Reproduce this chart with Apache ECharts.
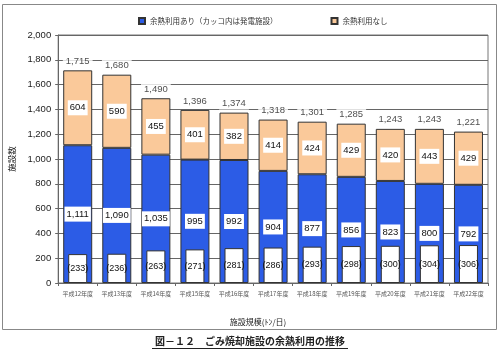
<!DOCTYPE html>
<html><head><meta charset="utf-8">
<script src="https://cdn.jsdelivr.net/npm/echarts@6/dist/echarts.min.js"></script>
<style>html,body{margin:0;padding:0;background:#fff}#c{width:500px;height:352px}</style>
</head><body><div id="c"></div>
<script>
const categories = ['平成12年度','平成13年度','平成14年度','平成15年度','平成16年度','平成17年度','平成18年度','平成19年度','平成20年度','平成21年度','平成22年度'];
const withHeat = [1111,1090,1035,995,992,904,877,856,823,800,792];
const withoutHeat = [604,590,455,401,382,414,424,429,420,443,429];
const powerGen = [233,236,263,271,281,286,293,298,300,304,306];
const totals = [1715,1680,1490,1396,1374,1318,1301,1285,1243,1243,1221];
const yTicks = {min:0, max:2000, interval:200};

const numFont = 'Liberation Sans';
const cjk = '"Noto Sans CJK JP"';
const fmt = v => String(v).replace(/\B(?=(\d{3})+(?!\d))/g, ',');

const chart = echarts.init(document.getElementById('c'), null, {renderer:'canvas'});
chart.setOption({
  animation:false,
  backgroundColor:'#fff',
  grid:{left:52, right:12, top:35, bottom:69, show:true, borderColor:'#777', borderWidth:1},
  legend:{
    left:133, top:12, itemWidth:6, itemHeight:6, itemGap:53, icon:'rect',
    textStyle:{fontFamily:cjk, fontSize:7.5, color:'#333'},
    data:['余熱利用あり（カッコ内は発電施設）','余熱利用なし']
  },
  xAxis:[{
    type:'category', data:categories,
    axisLine:{lineStyle:{color:'#666'}},
    axisTick:{show:true, length:3, lineStyle:{color:'#666'}},
    axisLabel:{interval:0, fontFamily:cjk, fontSize:6, color:'#555', margin:8}
  },{
    type:'category', data:categories, show:false
  }],
  yAxis:{
    type:'value', min:yTicks.min, max:yTicks.max, interval:yTicks.interval,
    name:'施設数', nameLocation:'middle', nameGap:33, nameRotate:90,
    nameTextStyle:{fontFamily:cjk, fontSize:8.5, color:'#222'},
    axisLine:{show:true, lineStyle:{color:'#666'}},
    axisTick:{show:true, length:3, lineStyle:{color:'#666'}},
    axisLabel:{fontFamily:numFont, fontSize:9.5, color:'#222', margin:7, formatter:v=>fmt(v)},
    splitLine:{lineStyle:{color:'#666', width:1}}
  },
  series:[
    {
      name:'余熱利用あり（カッコ内は発電施設）', type:'bar', stack:'a', barWidth:29,
      data:withHeat,
      itemStyle:{color:'#2c5ce6', borderColor:'#333', borderWidth:1},
      label:{show:true, position:'inside', formatter:p=>fmt(p.value), fontFamily:numFont, fontSize:9.5, color:'#111',
        backgroundColor:'#fff', padding:[3,2,2,2]}
    },
    {
      name:'余熱利用なし', type:'bar', stack:'a', barWidth:29,
      data:withoutHeat,
      itemStyle:{color:'#fac99a', borderColor:'#333', borderWidth:1},
      label:{show:true, position:'inside', fontFamily:numFont, fontSize:9.5, color:'#111',
        backgroundColor:'#fff', padding:[3,2,2,2]}
    },
    {
      name:'発電施設', type:'bar', xAxisIndex:1, barWidth:19, z:5,
      data:powerGen,
      itemStyle:{color:'#fff', borderColor:'#333', borderWidth:1},
      label:{show:true, position:'inside', formatter:p=>'('+p.value+')', fontFamily:numFont, fontSize:9, color:'#111'}
    },
    {
      name:'合計', type:'scatter', symbolSize:0, z:6,
      data:totals,
      label:{show:true, position:'top', distance:3, formatter:p=>fmt(p.value), fontFamily:numFont, fontSize:9.5, color:'#222',
        backgroundColor:'#fff', padding:[1,3]}
    }
  ],
  graphic:[
    {type:'rect', shape:{x:2.5, y:4.5, width:494, height:325}, style:{fill:null, stroke:'#888', lineWidth:1}, silent:true, z:-1},
    {type:'text', style:{x:258, y:322, text:'施設規模(ﾄﾝ/日)', fontFamily:cjk, fontSize:8, fill:'#222', textAlign:'center', textVerticalAlign:'middle'}},
    {type:'text', style:{x:250, y:341, text:'図－１２　ごみ焼却施設の余熱利用の推移', fontFamily:cjk, fontSize:10, fontWeight:'bold', fill:'#222', textAlign:'center', textVerticalAlign:'middle'}},
    {type:'line', shape:{x1:152, y1:348.5, x2:348, y2:348.5}, style:{stroke:'#222', lineWidth:1}}
  ]
});
</script></body></html>
